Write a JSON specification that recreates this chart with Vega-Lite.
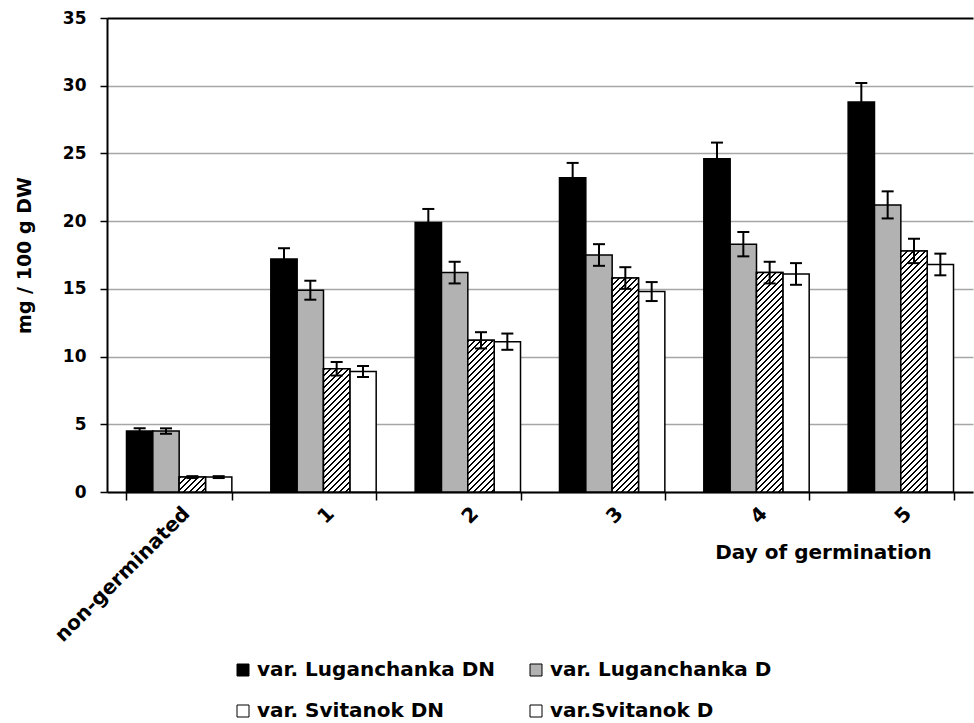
{
  "$schema": "https://vega.github.io/schema/vega-lite/v6.json",
  "width": 866,
  "height": 474,
  "autosize": {"type": "none"},
  "padding": {"left": 107, "top": 18, "right": 1, "bottom": 231},
  "background": "#ffffff",
  "params": [
    {"name": "hstops", "value": [
      {"offset":0,"color":"#000"},{"offset":0.0065,"color":"#000"},{"offset":0.0065,"color":"#fff"},{"offset":0.02,"color":"#fff"},
      {"offset":0.02,"color":"#000"},{"offset":0.0265,"color":"#000"},{"offset":0.0265,"color":"#fff"},{"offset":0.04,"color":"#fff"},
      {"offset":0.04,"color":"#000"},{"offset":0.0465,"color":"#000"},{"offset":0.0465,"color":"#fff"},{"offset":0.06,"color":"#fff"},
      {"offset":0.06,"color":"#000"},{"offset":0.0665,"color":"#000"},{"offset":0.0665,"color":"#fff"},{"offset":0.08,"color":"#fff"},
      {"offset":0.08,"color":"#000"},{"offset":0.0865,"color":"#000"},{"offset":0.0865,"color":"#fff"},{"offset":0.1,"color":"#fff"},
      {"offset":0.1,"color":"#000"},{"offset":0.1065,"color":"#000"},{"offset":0.1065,"color":"#fff"},{"offset":0.12,"color":"#fff"},
      {"offset":0.12,"color":"#000"},{"offset":0.1265,"color":"#000"},{"offset":0.1265,"color":"#fff"},{"offset":0.14,"color":"#fff"},
      {"offset":0.14,"color":"#000"},{"offset":0.1465,"color":"#000"},{"offset":0.1465,"color":"#fff"},{"offset":0.16,"color":"#fff"},
      {"offset":0.16,"color":"#000"},{"offset":0.1665,"color":"#000"},{"offset":0.1665,"color":"#fff"},{"offset":0.18,"color":"#fff"},
      {"offset":0.18,"color":"#000"},{"offset":0.1865,"color":"#000"},{"offset":0.1865,"color":"#fff"},{"offset":0.2,"color":"#fff"},
      {"offset":0.2,"color":"#000"},{"offset":0.2065,"color":"#000"},{"offset":0.2065,"color":"#fff"},{"offset":0.22,"color":"#fff"},
      {"offset":0.22,"color":"#000"},{"offset":0.2265,"color":"#000"},{"offset":0.2265,"color":"#fff"},{"offset":0.24,"color":"#fff"},
      {"offset":0.24,"color":"#000"},{"offset":0.2465,"color":"#000"},{"offset":0.2465,"color":"#fff"},{"offset":0.26,"color":"#fff"},
      {"offset":0.26,"color":"#000"},{"offset":0.2665,"color":"#000"},{"offset":0.2665,"color":"#fff"},{"offset":0.28,"color":"#fff"},
      {"offset":0.28,"color":"#000"},{"offset":0.2865,"color":"#000"},{"offset":0.2865,"color":"#fff"},{"offset":0.3,"color":"#fff"},
      {"offset":0.3,"color":"#000"},{"offset":0.3065,"color":"#000"},{"offset":0.3065,"color":"#fff"},{"offset":0.32,"color":"#fff"},
      {"offset":0.32,"color":"#000"},{"offset":0.3265,"color":"#000"},{"offset":0.3265,"color":"#fff"},{"offset":0.34,"color":"#fff"},
      {"offset":0.34,"color":"#000"},{"offset":0.3465,"color":"#000"},{"offset":0.3465,"color":"#fff"},{"offset":0.36,"color":"#fff"},
      {"offset":0.36,"color":"#000"},{"offset":0.3665,"color":"#000"},{"offset":0.3665,"color":"#fff"},{"offset":0.38,"color":"#fff"},
      {"offset":0.38,"color":"#000"},{"offset":0.3865,"color":"#000"},{"offset":0.3865,"color":"#fff"},{"offset":0.4,"color":"#fff"},
      {"offset":0.4,"color":"#000"},{"offset":0.4065,"color":"#000"},{"offset":0.4065,"color":"#fff"},{"offset":0.42,"color":"#fff"},
      {"offset":0.42,"color":"#000"},{"offset":0.4265,"color":"#000"},{"offset":0.4265,"color":"#fff"},{"offset":0.44,"color":"#fff"},
      {"offset":0.44,"color":"#000"},{"offset":0.4465,"color":"#000"},{"offset":0.4465,"color":"#fff"},{"offset":0.46,"color":"#fff"},
      {"offset":0.46,"color":"#000"},{"offset":0.4665,"color":"#000"},{"offset":0.4665,"color":"#fff"},{"offset":0.48,"color":"#fff"},
      {"offset":0.48,"color":"#000"},{"offset":0.4865,"color":"#000"},{"offset":0.4865,"color":"#fff"},{"offset":0.5,"color":"#fff"},
      {"offset":0.5,"color":"#000"},{"offset":0.5065,"color":"#000"},{"offset":0.5065,"color":"#fff"},{"offset":0.52,"color":"#fff"},
      {"offset":0.52,"color":"#000"},{"offset":0.5265,"color":"#000"},{"offset":0.5265,"color":"#fff"},{"offset":0.54,"color":"#fff"},
      {"offset":0.54,"color":"#000"},{"offset":0.5465,"color":"#000"},{"offset":0.5465,"color":"#fff"},{"offset":0.56,"color":"#fff"},
      {"offset":0.56,"color":"#000"},{"offset":0.5665,"color":"#000"},{"offset":0.5665,"color":"#fff"},{"offset":0.58,"color":"#fff"},
      {"offset":0.58,"color":"#000"},{"offset":0.5865,"color":"#000"},{"offset":0.5865,"color":"#fff"},{"offset":0.6,"color":"#fff"},
      {"offset":0.6,"color":"#000"},{"offset":0.6065,"color":"#000"},{"offset":0.6065,"color":"#fff"},{"offset":0.62,"color":"#fff"},
      {"offset":0.62,"color":"#000"},{"offset":0.6265,"color":"#000"},{"offset":0.6265,"color":"#fff"},{"offset":0.64,"color":"#fff"},
      {"offset":0.64,"color":"#000"},{"offset":0.6465,"color":"#000"},{"offset":0.6465,"color":"#fff"},{"offset":0.66,"color":"#fff"},
      {"offset":0.66,"color":"#000"},{"offset":0.6665,"color":"#000"},{"offset":0.6665,"color":"#fff"},{"offset":0.68,"color":"#fff"},
      {"offset":0.68,"color":"#000"},{"offset":0.6865,"color":"#000"},{"offset":0.6865,"color":"#fff"},{"offset":0.7,"color":"#fff"},
      {"offset":0.7,"color":"#000"},{"offset":0.7065,"color":"#000"},{"offset":0.7065,"color":"#fff"},{"offset":0.72,"color":"#fff"},
      {"offset":0.72,"color":"#000"},{"offset":0.7265,"color":"#000"},{"offset":0.7265,"color":"#fff"},{"offset":0.74,"color":"#fff"},
      {"offset":0.74,"color":"#000"},{"offset":0.7465,"color":"#000"},{"offset":0.7465,"color":"#fff"},{"offset":0.76,"color":"#fff"},
      {"offset":0.76,"color":"#000"},{"offset":0.7665,"color":"#000"},{"offset":0.7665,"color":"#fff"},{"offset":0.78,"color":"#fff"},
      {"offset":0.78,"color":"#000"},{"offset":0.7865,"color":"#000"},{"offset":0.7865,"color":"#fff"},{"offset":0.8,"color":"#fff"},
      {"offset":0.8,"color":"#000"},{"offset":0.8065,"color":"#000"},{"offset":0.8065,"color":"#fff"},{"offset":0.82,"color":"#fff"},
      {"offset":0.82,"color":"#000"},{"offset":0.8265,"color":"#000"},{"offset":0.8265,"color":"#fff"},{"offset":0.84,"color":"#fff"},
      {"offset":0.84,"color":"#000"},{"offset":0.8465,"color":"#000"},{"offset":0.8465,"color":"#fff"},{"offset":0.86,"color":"#fff"},
      {"offset":0.86,"color":"#000"},{"offset":0.8665,"color":"#000"},{"offset":0.8665,"color":"#fff"},{"offset":0.88,"color":"#fff"},
      {"offset":0.88,"color":"#000"},{"offset":0.8865,"color":"#000"},{"offset":0.8865,"color":"#fff"},{"offset":0.9,"color":"#fff"},
      {"offset":0.9,"color":"#000"},{"offset":0.9065,"color":"#000"},{"offset":0.9065,"color":"#fff"},{"offset":0.92,"color":"#fff"},
      {"offset":0.92,"color":"#000"},{"offset":0.9265,"color":"#000"},{"offset":0.9265,"color":"#fff"},{"offset":0.94,"color":"#fff"},
      {"offset":0.94,"color":"#000"},{"offset":0.9465,"color":"#000"},{"offset":0.9465,"color":"#fff"},{"offset":0.96,"color":"#fff"}
    ]}
  ],
  "data": {"values": [
    {"day": "non-germinated", "series": "var. Luganchanka DN", "value": 4.5, "lo": 4.3, "hi": 4.7},
    {"day": "non-germinated", "series": "var. Luganchanka D", "value": 4.5, "lo": 4.3, "hi": 4.7},
    {"day": "non-germinated", "series": "var. Svitanok DN", "value": 1.1, "lo": 1.03, "hi": 1.17},
    {"day": "non-germinated", "series": "var.Svitanok D", "value": 1.1, "lo": 1.03, "hi": 1.17},
    {"day": "1", "series": "var. Luganchanka DN", "value": 17.2, "lo": 16.4, "hi": 18.0},
    {"day": "1", "series": "var. Luganchanka D", "value": 14.9, "lo": 14.2, "hi": 15.6},
    {"day": "1", "series": "var. Svitanok DN", "value": 9.1, "lo": 8.6, "hi": 9.6},
    {"day": "1", "series": "var.Svitanok D", "value": 8.9, "lo": 8.5, "hi": 9.3},
    {"day": "2", "series": "var. Luganchanka DN", "value": 19.9, "lo": 19.0, "hi": 20.9},
    {"day": "2", "series": "var. Luganchanka D", "value": 16.2, "lo": 15.4, "hi": 17.0},
    {"day": "2", "series": "var. Svitanok DN", "value": 11.2, "lo": 10.6, "hi": 11.8},
    {"day": "2", "series": "var.Svitanok D", "value": 11.1, "lo": 10.5, "hi": 11.7},
    {"day": "3", "series": "var. Luganchanka DN", "value": 23.2, "lo": 22.1, "hi": 24.3},
    {"day": "3", "series": "var. Luganchanka D", "value": 17.5, "lo": 16.7, "hi": 18.3},
    {"day": "3", "series": "var. Svitanok DN", "value": 15.8, "lo": 15.0, "hi": 16.6},
    {"day": "3", "series": "var.Svitanok D", "value": 14.8, "lo": 14.1, "hi": 15.5},
    {"day": "4", "series": "var. Luganchanka DN", "value": 24.6, "lo": 23.4, "hi": 25.8},
    {"day": "4", "series": "var. Luganchanka D", "value": 18.3, "lo": 17.4, "hi": 19.2},
    {"day": "4", "series": "var. Svitanok DN", "value": 16.2, "lo": 15.4, "hi": 17.0},
    {"day": "4", "series": "var.Svitanok D", "value": 16.1, "lo": 15.3, "hi": 16.9},
    {"day": "5", "series": "var. Luganchanka DN", "value": 28.8, "lo": 27.4, "hi": 30.2},
    {"day": "5", "series": "var. Luganchanka D", "value": 21.2, "lo": 20.2, "hi": 22.2},
    {"day": "5", "series": "var. Svitanok DN", "value": 17.8, "lo": 16.9, "hi": 18.7},
    {"day": "5", "series": "var.Svitanok D", "value": 16.8, "lo": 16.0, "hi": 17.6}
  ]},
  "encoding": {
    "x": {
      "field": "day", "type": "nominal",
      "scale": {"domain": ["non-germinated", "1", "2", "3", "4", "5"], "paddingInner": 0.27, "paddingOuter": 0.135},
      "axis": {
        "title": "Day of germination",
        "labelAngle": -45, "labelLimit": 400,
        "labelFont": "DejaVu Sans", "labelFontWeight": "bold", "labelFontSize": 20, "labelColor": "#000",
        "labelPadding": 3,
        "domainColor": "#000", "domainWidth": 2,
        "tickColor": "#000", "tickWidth": 1.5, "tickSize": 8, "tickBand": "extent",
        "grid": false,
        "titleFont": "DejaVu Sans", "titleFontWeight": "bold", "titleFontSize": 20, "titleColor": "#000",
        "titleX": 716, "titleY": 66, "titleAlign": "center", "titleBaseline": "alphabetic"
      }
    },
    "xOffset": {
      "field": "series", "type": "nominal",
      "scale": {"domain": ["var. Luganchanka DN", "var. Luganchanka D", "var. Svitanok DN", "var.Svitanok D"], "paddingInner": 0, "paddingOuter": 0}
    }
  },
  "layer": [
    {
      "mark": {"type": "bar", "stroke": "#000", "strokeWidth": 1.5},
      "encoding": {
        "y": {
          "field": "value", "type": "quantitative", "title": "mg / 100 g DW",
          "scale": {"domain": [0, 35], "nice": false},
          "axis": {
            "values": [0, 5, 10, 15, 20, 25, 30, 35],
            "grid": true,
            "gridColor": {"condition": {"test": "datum.value === 35", "value": "#000"}, "value": "#a6a6a6"},
            "gridWidth": {"condition": {"test": "datum.value === 35", "value": 2}, "value": 1.5},
            "domainColor": "#000", "domainWidth": 2,
            "tickColor": "#000", "tickWidth": 1.5, "tickSize": 7,
            "labelFont": "DejaVu Sans", "labelFontWeight": "bold", "labelFontSize": 17, "labelColor": "#000",
            "labelPadding": 14,
            "titleFont": "DejaVu Sans", "titleFontWeight": "bold", "titleFontSize": 19, "titleColor": "#000",
            "titlePadding": 28
          }
        },
        "color": {
          "field": "series", "type": "nominal",
          "scale": {
            "domain": ["var. Luganchanka DN", "var. Luganchanka D", "var. Svitanok DN", "var.Svitanok D"],
            "range": ["#000000", "#b2b2b2", "#ffffff", "#ffffff"]
          },
          "legend": {
            "title": null, "orient": "none", "legendX": 126, "legendY": 642,
            "direction": "horizontal",
            "columns": 2, "columnPadding": 30, "rowPadding": 21, "padding": 0,
            "symbolType": "square", "symbolSize": 144, "symbolStrokeColor": "#000", "symbolStrokeWidth": 1,
            "labelFont": "DejaVu Sans", "labelFontWeight": "bold", "labelFontSize": 20, "labelColor": "#000",
            "labelOffset": 4, "labelLimit": 400
          }
        }
      }
    },
    {
      "transform": [{"filter": "datum.series === 'var. Svitanok DN'"}],
      "mark": {
        "type": "bar", "stroke": "#000", "strokeWidth": 1.5,
        "fill": {"expr": "{gradient: 'linear', x1: 0, y1: 0, x2: 300 * bandwidth('xOffset') / (pow(scale('y', 0) - scale('y', datum.value), 2) + pow(bandwidth('xOffset'), 2)), y2: 300 * (scale('y', 0) - scale('y', datum.value)) / (pow(scale('y', 0) - scale('y', datum.value), 2) + pow(bandwidth('xOffset'), 2)), stops: hstops}"}
      },
      "encoding": {
        "y": {"field": "value", "type": "quantitative", "title": "mg / 100 g DW"}
      }
    },
    {
      "mark": {"type": "rule", "color": "#000", "strokeWidth": 2},
      "encoding": {
        "y": {"field": "lo", "type": "quantitative", "title": "mg / 100 g DW"},
        "y2": {"field": "hi"}
      }
    },
    {
      "mark": {"type": "tick", "color": "#000", "thickness": 2, "size": 12},
      "encoding": {
        "y": {"field": "lo", "type": "quantitative", "title": "mg / 100 g DW"}
      }
    },
    {
      "mark": {"type": "tick", "color": "#000", "thickness": 2, "size": 12},
      "encoding": {
        "y": {"field": "hi", "type": "quantitative", "title": "mg / 100 g DW"}
      }
    }
  ],
  "config": {
    "view": {"stroke": null},
    "tick": {"opacity": 1}
  }
}
